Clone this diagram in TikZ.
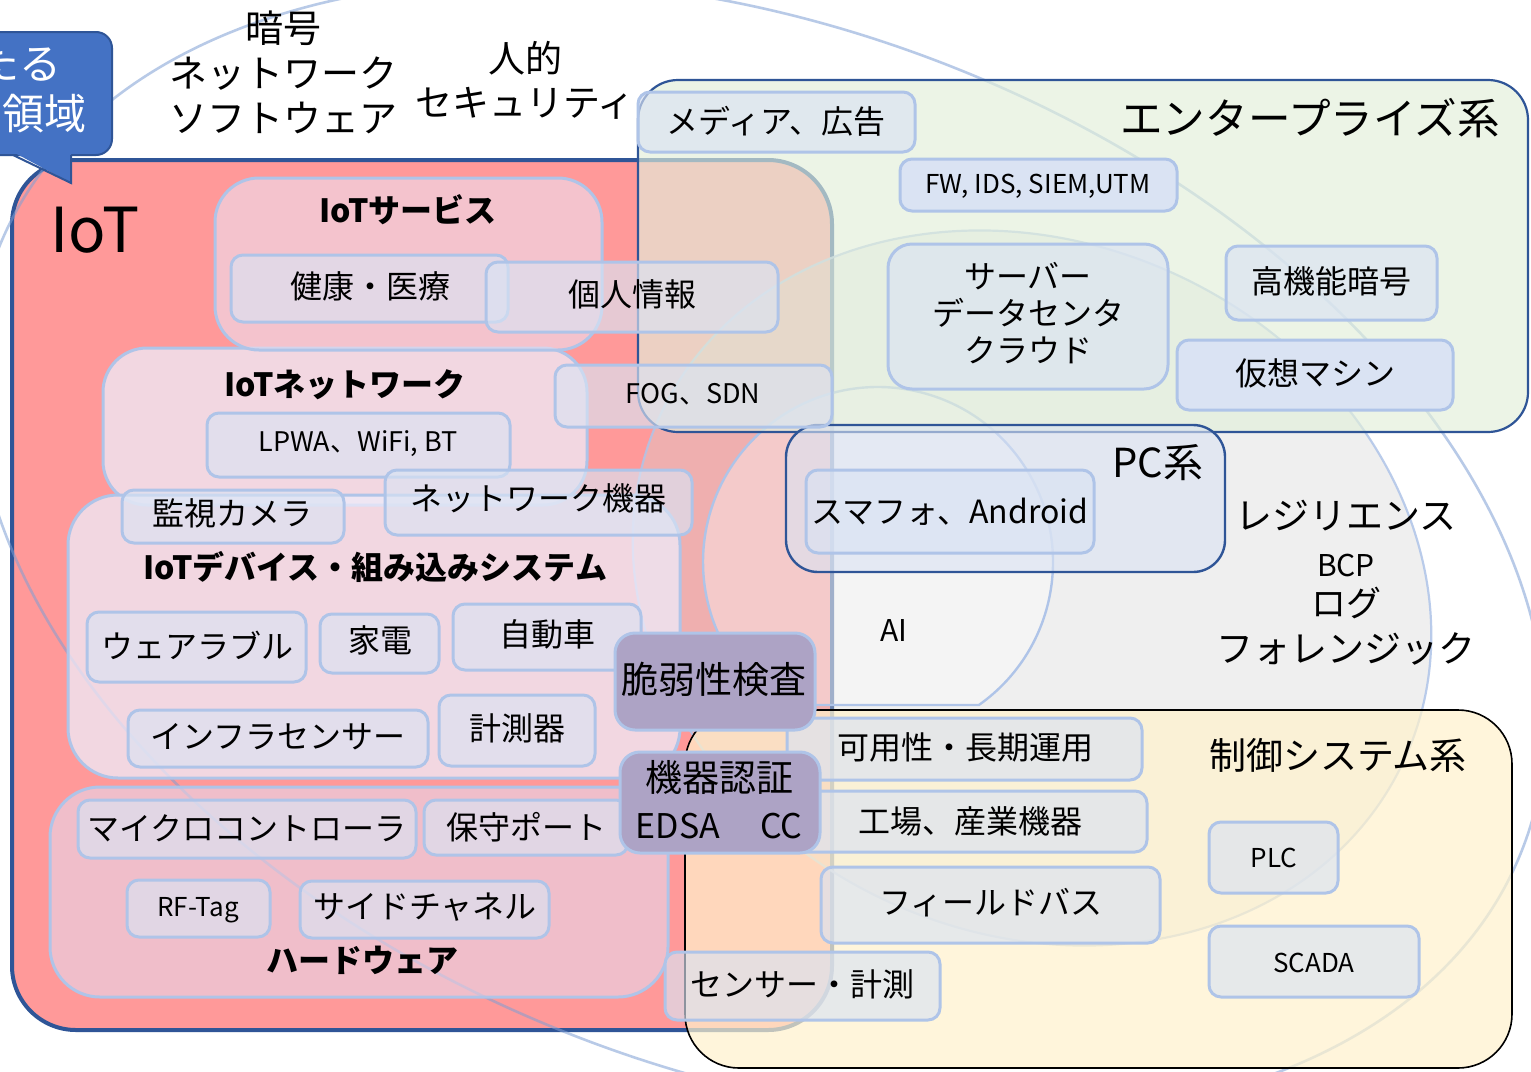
\documentclass[tikz,border=0pt]{standalone}
\usepackage{fontspec}
\setmainfont{Noto Sans CJK JP}
\usetikzlibrary{fit}
\definecolor{iotred}{HTML}{FF9999}
\definecolor{dblue}{HTML}{2F5597}
\definecolor{lblue}{HTML}{AFC4E8}
\definecolor{subfill}{HTML}{DAE3F3}
\definecolor{entgreen}{HTML}{E2EFDA}
\definecolor{ctlyellow}{HTML}{FFF2CC}
\definecolor{purp}{HTML}{ADA3C5}
\definecolor{callblue}{HTML}{4472C4}
\definecolor{ringblue}{HTML}{7F9FD5}
\definecolor{svcfill}{HTML}{EDDFF0}
\definecolor{netfill}{HTML}{EEECFA}
\definecolor{hwfill}{HTML}{E6D8EB}
\definecolor{grayfill}{HTML}{D5D5D5}
\tikzset{
  every node/.style={inner sep=0pt},
  sub/.style={draw=lblue, line width=1.5pt, rounded corners=6pt, fill=subfill, fill opacity=0.65},
  subsolid/.style={draw=lblue, line width=1.5pt, rounded corners=6pt, fill=subfill},
  purpbox/.style={draw=lblue, line width=1.5pt, rounded corners=10pt, fill=purp},
  grp/.style={draw=lblue, line width=1.5pt, rounded corners=22pt},
  ring/.style={draw=ringblue, draw opacity=0.55, line width=1.3pt},
  ringg/.style={draw=lblue, draw opacity=0.85, line width=1.1pt},
  tM/.style={font=\fontsize{16pt}{19pt}\selectfont, align=center},
  tS/.style={font=\fontsize{13.5pt}{16pt}\selectfont, align=center},
  tXS/.style={font=\fontsize{13pt}{15pt}\selectfont, align=center},
  tL/.style={font=\fontsize{18.5pt}{22pt}\selectfont, align=center},
  tB/.style={font=\fontsize{16pt}{19pt}\selectfont\bfseries, align=center},
}
\begin{document}
\begin{tikzpicture}[x=0.5pt,y=-0.5pt]
\useasboundingbox (0,0) rectangle (1531,1071);
\clip (0,0) rectangle (1531,1071);
\fill[white] (0,0) rectangle (1531,1071);

% IoT main box
\node[fit={(12,160)(832,1030)}, fill=iotred, draw=dblue, line width=2pt, rounded corners=32pt] (iot) {};

% gray ellipse fill
\begin{scope}[shift={(1032,588)}, rotate=-25]
  \fill[grayfill, fill opacity=0.38] (0,0) ellipse [x radius=205pt, y radius=172.5pt];
\end{scope}

% outline rings
\begin{scope}[shift={(760,550)}, rotate=-21.5]
  \draw[ring] (0,0) ellipse [x radius=409.5pt, y radius=260pt];
\end{scope}
\begin{scope}[shift={(1032,588)}, rotate=-25]
  \draw[ringg] (0,0) ellipse [x radius=205pt, y radius=172.5pt];
\end{scope}

% AI chord circle
\coordinate (aic) at (878,562);
\draw[fill=white, fill opacity=0.35, draw=lblue, line width=1.2pt]
  (aic) ++(-54.8:87.5pt) arc[start angle=-54.8, end angle=234.8, radius=87.5pt] -- cycle;

% IoT group boxes
\node[fit={(103,348)(587,505)}, grp, fill=netfill, fill opacity=0.75] (netgrp) {};
\node[fit={(215,178)(602,350)}, grp, fill=svcfill, fill opacity=0.6] (svcgrp) {};
\node[fit={(68,495)(680,778)}, grp, fill=netfill, fill opacity=0.75, rounded corners=25pt] (devgrp) {};
\node[fit={(50,787)(668,997)}, grp, fill=hwfill, fill opacity=0.6, rounded corners=25pt] (hwgrp) {};

% enterprise, control, PC
\node[fit={(638,80)(1528,432)}, fill=entgreen, fill opacity=0.65, draw=dblue, line width=1.1pt, rounded corners=20pt] (ent) {};
\node[fit={(685,710)(1512,1068)}, fill=ctlyellow, fill opacity=0.7, draw=black, line width=0.8pt, rounded corners=27pt] (ctl) {};
\node[fit={(786,425)(1225,572)}, fill=subfill, fill opacity=0.6, draw=dblue, line width=1.2pt, rounded corners=16pt] (pc) {};

% sub boxes
\node[sub, fit={(231,255)(508,322)}] (bhealth) {};
\node[sub, fit={(486,262)(778,332)}] (bpriv) {};
\node[sub, fit={(207,413)(510,477)}] (blpwa) {};
\node[sub, fit={(555,365)(832,427)}] (bfog) {};
\node[sub, fit={(122,490)(344,543)}] (bcam) {};
\node[sub, fit={(385,470)(692,535)}] (bnetdev) {};
\node[sub, fit={(87,612)(306,682)}] (bwear) {};
\node[sub, fit={(320,614)(439,673)}] (bappl) {};
\node[sub, fit={(453,604)(641,670)}] (bcar) {};
\node[sub, fit={(128,710)(428,767)}] (binfra) {};
\node[sub, fit={(439,695)(595,766)}] (bmeter) {};
\node[sub, fit={(78,800)(416,858)}] (bmicro) {};
\node[sub, fit={(424,800)(628,855)}] (bmaint) {};
\node[sub, fit={(127,880)(270,937)}] (brf) {};
\node[sub, fit={(300,881)(549,938)}] (bside) {};
\node[sub, fit={(665,952)(940,1020)}] (bsensor) {};
\node[sub, fit={(638,92)(915,152)}] (bmedia) {};
\node[subsolid, fit={(900,159)(1177,211)}] (bfw) {};
\node[sub, rounded corners=12pt, fit={(888,244)(1168,389)}] (bserver) {};
\node[sub, fit={(1226,246)(1437,320)}] (bcrypto) {};
\node[subsolid, fit={(1177,340)(1453,410)}] (bvm) {};
\node[sub, fit={(806,470)(1094,553)}] (bsmart) {};
\node[sub, fit={(787,718)(1142,780)}] (bavail) {};
\node[sub, fit={(790,791)(1147,852)}] (bfactory) {};
\node[sub, fit={(821,867)(1160,943)}] (bfield) {};
\node[sub, fit={(1209,822)(1338,893)}] (bplc) {};
\node[sub, fit={(1209,926)(1419,997)}] (bscada) {};
\node[purpbox, fit={(615,633)(815,730)}] (bvuln) {};
\node[purpbox, fit={(620,752)(820,853)}] (bauth) {};

% callout
\node[fit={(-40,32)(112,155)}, fill=callblue, draw=dblue, line width=1pt, rounded corners=8pt] (callout) {};
\coordinate (cpa) at (13,155);
\coordinate (cpb) at (71,155);
\coordinate (cpt) at (71,183);
\fill[callblue] (13,152) -- (71,152) -- (cpt) -- cycle;
\draw[dblue, line width=1pt] (cpa) -- (cpt) -- (cpb);
\node[anchor=east, text=white, font=\fontsize{21pt}{24pt}\selectfont] (ctext1) at (62,64) {当たる};
\node[anchor=east, text=white, font=\fontsize{21pt}{24pt}\selectfont] (ctext2) at (87,114) {領域};

% top texts
\node[font=\fontsize{19pt}{22.5pt}\selectfont, align=center] (lblcat) at (283,72) {暗号\\ネットワーク\\ソフトウェア};
\node[font=\fontsize{18.5pt}{22pt}\selectfont, align=center] (lblhuman) at (525,80) {人的\\セキュリティ};

% IoT texts
\node[font=\fontsize{31pt}{36pt}\selectfont, anchor=west] (lbliot) at (50,230) {IoT};
\node[tB] (lblsvc) at (408,210) {IoTサービス};
\node[tM] (thealth) at (370,286) {健康・医療};
\node[tM] (tpriv) at (632,294) {個人情報};
\node[tB] (lblnet) at (345,385) {IoTネットワーク};
\node[tS] (tlpwa) at (358,444) {LPWA、WiFi, BT};
\node[tS] (tfog) at (693,394) {FOG、SDN};
\node[tM] (tnetdev) at (538,498) {ネットワーク機器};
\node[tM] (tcam) at (232,513) {監視カメラ};
\node[tB] (lbldev) at (375,567) {IoTデバイス・組み込みシステム};
\node[tM] (twear) at (197,645) {ウェアラブル};
\node[tM] (tappl) at (380,640) {家電};
\node[tM] (tcar) at (547,634) {自動車};
\node[tM] (tinfra) at (278,737) {インフラセンサー};
\node[tM] (tmeter) at (517,728) {計測器};
\node[tL] (tvuln) at (714,679) {脆弱性検査};
\node[tL] (tauth) at (719,777) {機器認証};
\node[font=\fontsize{17pt}{20pt}\selectfont] (tedsa) at (719,826) {EDSA\hspace{20pt}CC};
\node[tM] (tmicro) at (247,828) {マイクロコントローラ};
\node[tM] (tmaint) at (526,827) {保守ポート};
\node[tXS] (trf) at (198,910) {RF-Tag};
\node[tM] (tside) at (425,907) {サイドチャネル};
\node[tB] (lblhw) at (362,960) {ハードウェア};
\node[tM] (tsensor) at (802,984) {センサー・計測};

% enterprise texts
\node[font=\fontsize{21.3pt}{25pt}\selectfont] (lblent) at (1310,118) {エンタープライズ系};
\node[tM] (tmedia) at (776,121) {メディア、広告};
\node[tXS] (tfw) at (1038,186) {FW, IDS, SIEM,UTM};
\node[tM, font=\fontsize{16pt}{18.7pt}\selectfont] (tserver) at (1028,313) {サーバー\\データセンタ\\クラウド};
\node[tM] (tcrypto) at (1331,281) {高機能暗号};
\node[tM] (tvm) at (1315,373) {仮想マシン};

% PC and resilience
\node[font=\fontsize{20pt}{24pt}\selectfont] (lblpc) at (1158,463) {PC系};
\node[tM] (tsmart) at (950,512) {スマフォ、Android};
\node[font=\fontsize{15pt}{18pt}\selectfont] (tai) at (894,630) {AI};
\node[tL] (tres) at (1346,516) {レジリエンス};
\node[font=\fontsize{15pt}{18pt}\selectfont] (tbcp) at (1346,565) {BCP};
\node[font=\fontsize{17.5pt}{20pt}\selectfont] (tlog) at (1346,603) {ログ};
\node[tL] (tfor) at (1346,649) {フォレンジック};

% control texts
\node[tL] (lblctl) at (1338,755) {制御システム系};
\node[tM] (tavail) at (965,747) {可用性・長期運用};
\node[tM] (tfactory) at (970,821) {工場、産業機器};
\node[tM] (tfield) at (991,903) {フィールドバス};
\node[tXS] (tplc) at (1274,858) {PLC};
\node[tXS] (tscada) at (1314,963) {SCADA};
\end{tikzpicture}
\end{document}
